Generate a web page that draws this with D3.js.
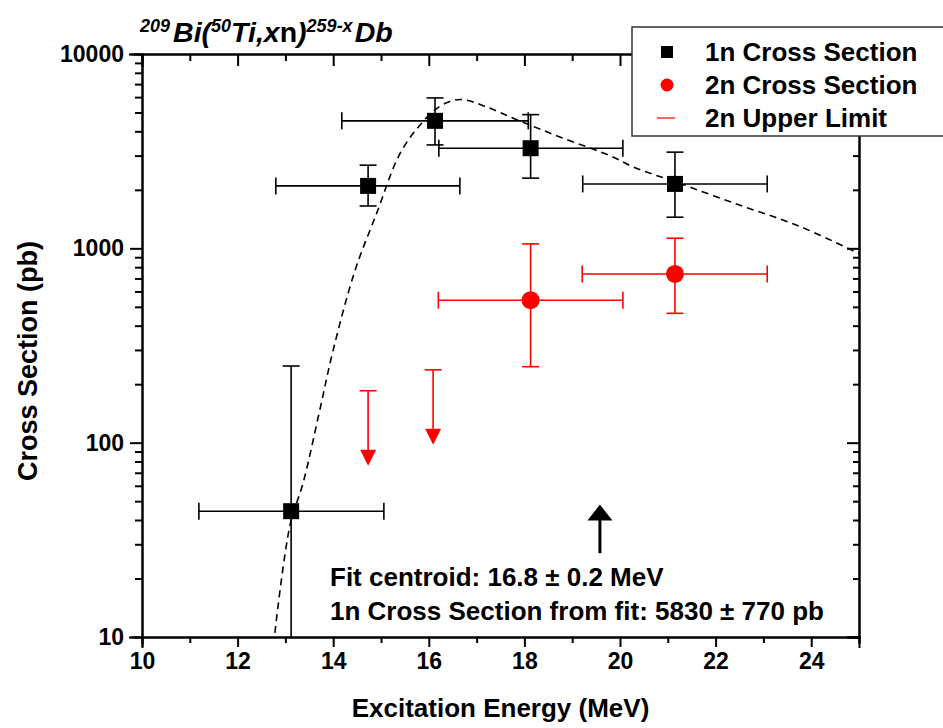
<!DOCTYPE html>
<html>
<head>
<meta charset="utf-8">
<script src="https://cdn.jsdelivr.net/npm/d3@7"></script>
<style>
  body { margin: 0; background: #fff; }
  svg { display: block; font-family: "Liberation Sans", Arial, Helvetica, sans-serif; }
  .axis path, .axis line { stroke: #000; stroke-width: 2px; }
  .axis text { font-size: 23px; font-weight: bold; fill: #000; }
</style>
</head>
<body>
<div id="chart"></div>
<script>
// 1n cross sections (black squares)
const energy1n = [13.12, 14.73, 16.13, 18.13, 21.15];
const energy1nLo = [11.19, 12.80, 14.18, 16.21, 19.22];
const energy1nHi = [15.06, 16.65, 18.08, 20.06, 23.08];
const sigma1n = [44.4, 2095, 4530, 3275, 2145];
const sigma1nLo = [1, 1652, 3405, 2297, 1446];
const sigma1nHi = [248, 2678, 5943, 4876, 3126];

// 2n cross sections (red circles)
const energy2n = [18.13, 21.15];
const energy2nLo = [16.20, 19.21];
const energy2nHi = [20.06, 23.08];
const sigma2n = [541, 738];
const sigma2nLo = [246, 463];
const sigma2nHi = [1054, 1127];

// 2n upper limits (red arrows)
const energyUL = [14.73, 16.09];
const sigmaUL = [185, 237];

// fitted excitation function (dashed)
const fitEnergy = [12.78, 13.1, 13.37, 13.7, 14.0, 14.46, 14.92, 15.33, 15.6, 15.82, 16.1, 16.4, 16.7, 17.2, 17.85, 18.74, 19.85, 20.27, 21.15, 22.5, 23.75, 25.0];
const fitSigma = [10.5, 38, 62, 140, 300, 774, 1540, 2850, 3700, 4318, 5100, 5650, 5830, 5350, 4580, 3745, 2954, 2624, 2200, 1670, 1300, 940];

// axis ticks
const xMajor = [10, 12, 14, 16, 18, 20, 22, 24];
const xMinor = [11, 13, 15, 17, 19, 21, 23, 25];
const yMajor = [10, 100, 1000, 10000];
const yMinor = [20, 30, 40, 50, 60, 70, 80, 90, 200, 300, 400, 500, 600, 700, 800, 900, 2000, 3000, 4000, 5000, 6000, 7000, 8000, 9000];

const legendItems = ['1n Cross Section', '2n Cross Section', '2n Upper Limit'];

const width = 943, height = 728;
const margin = {t: 54, r: 84, b: 91, l: 142};
const iw = width - margin.l - margin.r;
const ih = height - margin.t - margin.b;

const x = d3.scaleLinear().domain([10, 25]).range([0, iw]);
const y = d3.scaleLog().domain([10, 10000]).range([ih, 0]);

const svg = d3.select('#chart').append('svg')
  .attr('width', width)
  .attr('height', height);

const defs = svg.append('defs');
defs.append('clipPath').attr('id', 'plot-clip')
  .append('rect').attr('width', iw).attr('height', ih);

const g = svg.append('g')
  .attr('transform', `translate(${margin.l},${margin.t})`);

// axes
const fmt = d3.format('d');
g.append('g').attr('class', 'axis')
  .attr('transform', `translate(0,${ih})`)
  .call(d3.axisBottom(x).tickValues(xMajor).tickSize(10).tickPadding(6).tickFormat(fmt));
g.append('g').attr('class', 'axis')
  .attr('transform', `translate(0,${ih})`)
  .call(d3.axisBottom(x).tickValues(xMinor).tickSize(6).tickFormat(''));
g.append('g').attr('class', 'axis')
  .call(d3.axisTop(x).tickValues(xMajor).tickSize(-12).tickFormat(''));
g.append('g').attr('class', 'axis')
  .call(d3.axisTop(x).tickValues(xMinor).tickSize(-7).tickFormat(''));

g.append('g').attr('class', 'axis')
  .call(d3.axisLeft(y).tickValues(yMajor).tickSize(12).tickPadding(6).tickFormat(fmt));
g.append('g').attr('class', 'axis')
  .call(d3.axisLeft(y).tickValues(yMinor).tickSize(7).tickFormat(''));
g.append('g').attr('class', 'axis')
  .attr('transform', `translate(${iw},0)`)
  .call(d3.axisRight(y).tickValues(yMajor).tickSize(-12).tickFormat(''));
g.append('g').attr('class', 'axis')
  .attr('transform', `translate(${iw},0)`)
  .call(d3.axisRight(y).tickValues(yMinor).tickSize(-6).tickFormat(''));

g.selectAll('.axis .domain').attr('stroke-linecap', 'square');

const plot = g.append('g').attr('clip-path', 'url(#plot-clip)');

// fit curve
const fitData = fitEnergy.map((e, i) => [e, fitSigma[i]]);
plot.append('path')
  .datum(fitData)
  .attr('fill', 'none')
  .attr('stroke', '#000')
  .attr('stroke-width', 1.6)
  .attr('stroke-dasharray', '7,5')
  .attr('d', d3.line().x(d => x(d[0])).y(d => y(d[1])).curve(d3.curveCatmullRom.alpha(0.5)));

// error bar helper
function errorBars(sel, data, color) {
  const cap = 8.5;
  const eb = sel.append('g').attr('stroke', color).attr('stroke-width', 1.6).attr('fill', 'none');
  data.forEach(d => {
    eb.append('line').attr('x1', x(d.xl)).attr('x2', x(d.xh)).attr('y1', y(d.v)).attr('y2', y(d.v));
    eb.append('line').attr('x1', x(d.xl)).attr('x2', x(d.xl)).attr('y1', y(d.v) - cap).attr('y2', y(d.v) + cap);
    eb.append('line').attr('x1', x(d.xh)).attr('x2', x(d.xh)).attr('y1', y(d.v) - cap).attr('y2', y(d.v) + cap);
    eb.append('line').attr('x1', x(d.e)).attr('x2', x(d.e)).attr('y1', y(d.vl)).attr('y2', y(d.vh));
    eb.append('line').attr('x1', x(d.e) - cap).attr('x2', x(d.e) + cap).attr('y1', y(d.vh)).attr('y2', y(d.vh));
    if (d.vl >= 10) {
      eb.append('line').attr('x1', x(d.e) - cap).attr('x2', x(d.e) + cap).attr('y1', y(d.vl)).attr('y2', y(d.vl));
    }
  });
}

const data1n = energy1n.map((e, i) => ({e, xl: energy1nLo[i], xh: energy1nHi[i], v: sigma1n[i], vl: sigma1nLo[i], vh: sigma1nHi[i]}));
const data2n = energy2n.map((e, i) => ({e, xl: energy2nLo[i], xh: energy2nHi[i], v: sigma2n[i], vl: sigma2nLo[i], vh: sigma2nHi[i]}));

errorBars(plot, data1n, '#000');
errorBars(plot, data2n, '#ff0000');

plot.selectAll('.sq')
  .data(data1n)
  .enter().append('rect')
  .attr('class', 'sq')
  .attr('x', d => x(d.e) - 8)
  .attr('y', d => y(d.v) - 8)
  .attr('width', 16)
  .attr('height', 16)
  .attr('fill', '#000');

plot.selectAll('.dot')
  .data(data2n)
  .enter().append('circle')
  .attr('class', 'dot')
  .attr('cx', d => x(d.e))
  .attr('cy', d => y(d.v))
  .attr('r', 9)
  .attr('fill', '#ff0000');

// upper limits
const ul = plot.selectAll('.ul')
  .data(energyUL.map((e, i) => ({e, v: sigmaUL[i]})))
  .enter().append('g')
  .attr('class', 'ul')
  .attr('transform', d => `translate(${x(d.e)},${y(d.v)})`);
ul.append('line').attr('x1', -8.5).attr('x2', 8.5).attr('stroke', '#ff0000').attr('stroke-width', 1.6);
ul.append('line').attr('y1', 0).attr('y2', 60).attr('stroke', '#ff0000').attr('stroke-width', 1.6);
ul.append('path').attr('d', 'M-8,59L8,59L0,75Z').attr('fill', '#ff0000');

// centroid arrow
const arrowE = 19.58;
const ax = x(arrowE);
const ay0 = y(27), ay1 = y(48);
g.append('line').attr('x1', ax).attr('x2', ax).attr('y1', ay0).attr('y2', ay1 + 14)
  .attr('stroke', '#000').attr('stroke-width', 3);
g.append('path')
  .attr('d', `M${ax - 12.5},${ay1 + 16}L${ax + 12.5},${ay1 + 16}L${ax},${ay1}Z`)
  .attr('fill', '#000');

// annotation text
const note = g.append('g').attr('font-size', 26).attr('font-weight', 'bold');
note.append('text').attr('x', 188).attr('y', 532).text('Fit centroid: 16.8 \u00b1 0.2 MeV');
note.append('text').attr('x', 188).attr('y', 566).text('1n Cross Section from fit: 5830 \u00b1 770 pb');

// axis titles
svg.append('text')
  .attr('x', margin.l + iw / 2)
  .attr('y', 717)
  .attr('text-anchor', 'middle')
  .attr('font-size', 26)
  .attr('font-weight', 'bold')
  .text('Excitation Energy (MeV)');

svg.append('text')
  .attr('transform', 'translate(37,361) rotate(-90)')
  .attr('text-anchor', 'middle')
  .attr('font-size', 27)
  .attr('font-weight', 'bold')
  .text('Cross Section (pb)');

// title
const title = svg.append('text')
  .attr('x', 140)
  .attr('y', 42)
  .attr('font-size', 28.5)
  .attr('font-weight', 'bold')
  .attr('font-style', 'italic');
title.append('tspan').attr('font-size', 18).attr('dy', -10).text('209');
title.append('tspan').attr('dy', 10).attr('dx', 3).text('Bi(');
title.append('tspan').attr('font-size', 18).attr('dy', -10).text('50');
title.append('tspan').attr('dy', 10).text('Ti,x');
title.append('tspan').attr('font-style', 'normal').text('n');
title.append('tspan').text(')');
title.append('tspan').attr('font-size', 18).attr('dy', -10).text('259-x');
title.append('tspan').attr('dy', 10).attr('dx', 2).text('Db');

// legend
const legend = svg.append('g').attr('transform', 'translate(632,27)');
legend.append('rect')
  .attr('width', 330)
  .attr('height', 109)
  .attr('fill', '#fff')
  .attr('stroke', '#333')
  .attr('stroke-width', 1.5);
const rows = legend.selectAll('.row')
  .data(legendItems)
  .enter().append('g')
  .attr('class', 'row')
  .attr('transform', (d, i) => `translate(0,${19 + i * 33})`);
rows.append('text')
  .attr('x', 73)
  .attr('y', 6)
  .attr('dy', '0.35em')
  .attr('font-size', 26)
  .attr('font-weight', 'bold')
  .text(d => d);
rows.filter((d, i) => i === 0).append('rect')
  .attr('x', 29).attr('y', 0).attr('width', 12).attr('height', 12).attr('fill', '#000');
rows.filter((d, i) => i === 1).append('circle')
  .attr('cx', 35).attr('cy', 6).attr('r', 6.5).attr('fill', '#ff0000');
rows.filter((d, i) => i === 2).append('line')
  .attr('x1', 25).attr('x2', 43).attr('y1', 6).attr('y2', 6)
  .attr('stroke', '#ff0000').attr('stroke-width', 1.2);
</script>
</body>
</html>
